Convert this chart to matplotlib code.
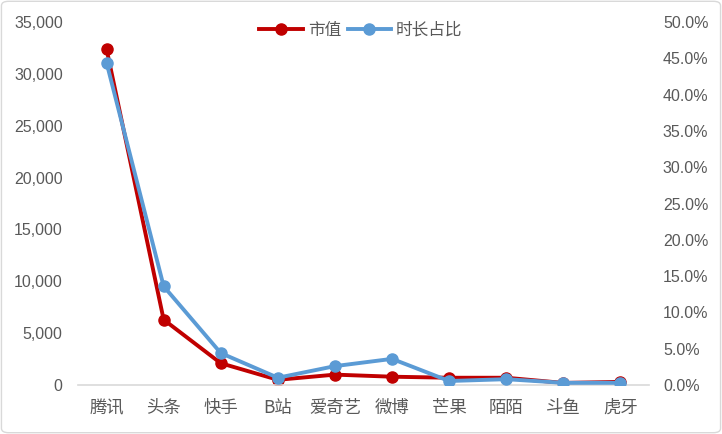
import matplotlib.pyplot as plt
from matplotlib.ticker import FuncFormatter
from matplotlib.patches import FancyBboxPatch

plt.rcParams['font.family'] = ['Noto Sans CJK SC', 'DejaVu Sans']

categories = ['腾讯', '头条', '快手', 'B站', '爱奇艺', '微博', '芒果', '陌陌', '斗鱼', '虎牙']
market_value = [32400, 6300, 2100, 500, 1000, 800, 700, 700, 200, 300]
time_share = [0.444, 0.136, 0.044, 0.010, 0.026, 0.036, 0.0055, 0.008, 0.003, 0.003]

red = '#C00000'
blue = '#5B9BD5'
gray = '#595959'

fig = plt.figure(figsize=(7.22, 4.34), dpi=100)
ax = fig.add_axes([78 / 722, 49 / 434, 571 / 722, 363 / 434])
ax2 = ax.twinx()

x = range(len(categories))
l1, = ax.plot(x, market_value, color=red, lw=2.8, marker='o', ms=8, label='市值')
l2, = ax2.plot(x, time_share, color=blue, lw=2.8, marker='o', ms=8, label='时长占比')

ax.set_xlim(-0.5, len(categories) - 0.5)
ax.set_ylim(0, 35000)
ax2.set_ylim(0, 0.5)
ax.set_yticks(range(0, 35001, 5000))
ax2.set_yticks([i * 0.05 for i in range(11)])
ax.yaxis.set_major_formatter(FuncFormatter(lambda v, p: f'{int(v):,}'))
ax2.yaxis.set_major_formatter(FuncFormatter(lambda v, p: f'{v * 100:.1f}%'))
ax.set_xticks(list(x))
ax.set_xticklabels(categories)

for a in (ax, ax2):
    for s in a.spines.values():
        s.set_visible(False)
    a.tick_params(length=0, colors=gray, labelsize=11.5)
ax.spines['bottom'].set_visible(True)
ax.spines['bottom'].set_color('#d9d9d9')
ax.spines['bottom'].set_linewidth(1.2)
ax.tick_params(axis='x', pad=10, labelsize=12.5)
ax.tick_params(axis='y', pad=11)
ax2.tick_params(axis='y', pad=10)
for lab in ax.get_yticklabels() + ax2.get_yticklabels():
    lab.set_family(['Liberation Sans', 'DejaVu Sans'])

leg = fig.legend(handles=[l1, l2], loc='center', bbox_to_anchor=(0.5, 0.93), ncol=2,
                 frameon=False, fontsize=12, handlelength=2.6, columnspacing=0.4,
                 handletextpad=0.3)
for t in leg.get_texts():
    t.set_color(gray)

fig.patches.append(FancyBboxPatch((0.002, 0.003), 0.996, 0.994, boxstyle='round,pad=0,rounding_size=0.01',
                                  transform=fig.transFigure, fill=False, ec='#d9d9d9', lw=1))

fig.savefig('out.png', dpi=100)
